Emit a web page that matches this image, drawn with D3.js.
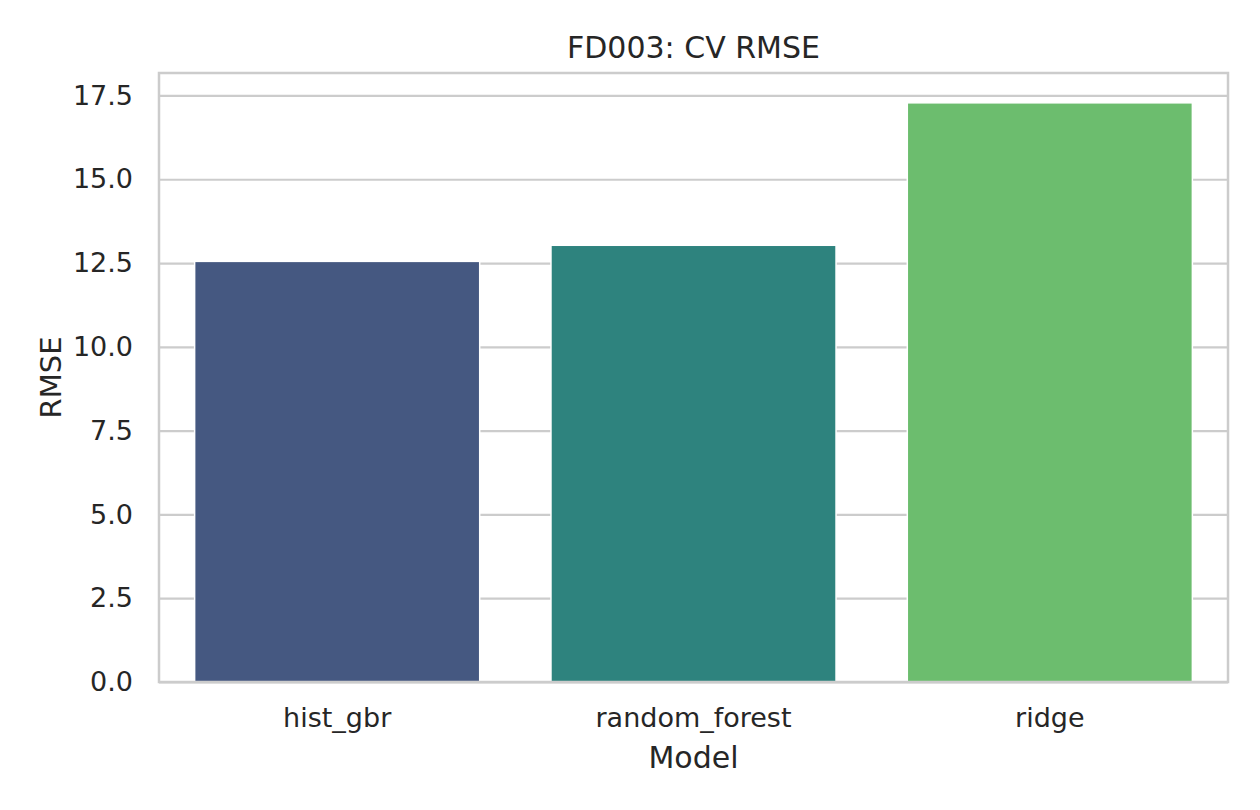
<!DOCTYPE html>
<html>
<head>
<meta charset="utf-8">
<script src="https://cdn.jsdelivr.net/npm/d3@7"></script>
<style>
  body { margin: 0; background: #fff; }
  text { font-family: "DejaVu Sans", sans-serif; fill: #262626; }
</style>
</head>
<body>
<div id="chart"></div>
<script>
// CV RMSE per model (FD003)
var models = ["hist_gbr", "random_forest", "ridge"];
var rmse = [12.55, 13.03, 17.28];
var barColors = ["#455881", "#2e837e", "#6cbd6e"];
var yTicks = [0, 2.5, 5, 7.5, 10, 12.5, 15, 17.5];

var svgWidth = 1260, svgHeight = 810;
var margin = {top: 73, right: 32, bottom: 128, left: 159};
var width = svgWidth - margin.left - margin.right,
    height = svgHeight - margin.top - margin.bottom;

var svg = d3.select("#chart").append("svg")
  .attr("width", svgWidth)
  .attr("height", svgHeight);

var g = svg.append("g")
  .attr("transform", `translate(${margin.left}, ${margin.top})`);

var xScale = d3.scaleBand()
  .domain(models)
  .range([0, width])
  .paddingInner(0.2)
  .paddingOuter(0.1);

var yScale = d3.scaleLinear()
  .domain([0, 18.17])
  .range([height, 0]);

// horizontal grid
var grid = g.append("g")
  .call(d3.axisLeft(yScale).tickValues(yTicks).tickSize(-width).tickFormat(""));
grid.select(".domain").remove();
grid.selectAll("line").attr("stroke", "#cccccc").attr("stroke-width", 2.2);

// y tick labels
var yAxis = g.append("g")
  .call(d3.axisLeft(yScale).tickValues(yTicks).tickSize(0).tickPadding(26)
    .tickFormat(d3.format(".1f")));
yAxis.select(".domain").remove();
yAxis.selectAll("text")
  .attr("font-size", "27px")
  .attr("font-family", "DejaVu Sans")
  .attr("fill", "#262626");

// bars
g.selectAll(".bar")
  .data(rmse)
  .enter()
  .append("rect")
  .attr("class", "bar")
  .attr("x", (d, i) => xScale(models[i]))
  .attr("y", d => yScale(d))
  .attr("width", xScale.bandwidth())
  .attr("height", d => height - yScale(d))
  .attr("fill", (d, i) => barColors[i])
  .attr("stroke", "#ffffff")
  .attr("stroke-width", 1.5);

// x tick labels
var xAxis = g.append("g")
  .attr("transform", `translate(0, ${height})`)
  .call(d3.axisBottom(xScale).tickSize(0).tickPadding(26));
xAxis.select(".domain").remove();
xAxis.selectAll("text")
  .attr("font-size", "27px")
  .attr("font-family", "DejaVu Sans")
  .attr("fill", "#262626");

// frame
g.append("rect")
  .attr("width", width)
  .attr("height", height)
  .attr("fill", "none")
  .attr("stroke", "#cccccc")
  .attr("stroke-width", 2.5);

// labels
svg.append("text")
  .attr("x", margin.left + width / 2)
  .attr("y", 58)
  .attr("text-anchor", "middle")
  .attr("font-size", "30px")
  .text("FD003: CV RMSE");

svg.append("text")
  .attr("x", margin.left + width / 2)
  .attr("y", 768)
  .attr("text-anchor", "middle")
  .attr("font-size", "30px")
  .text("Model");

svg.append("text")
  .attr("transform", "rotate(-90)")
  .attr("x", -(margin.top + height / 2))
  .attr("y", 61)
  .attr("text-anchor", "middle")
  .attr("font-size", "29px")
  .text("RMSE");
</script>
</body>
</html>
